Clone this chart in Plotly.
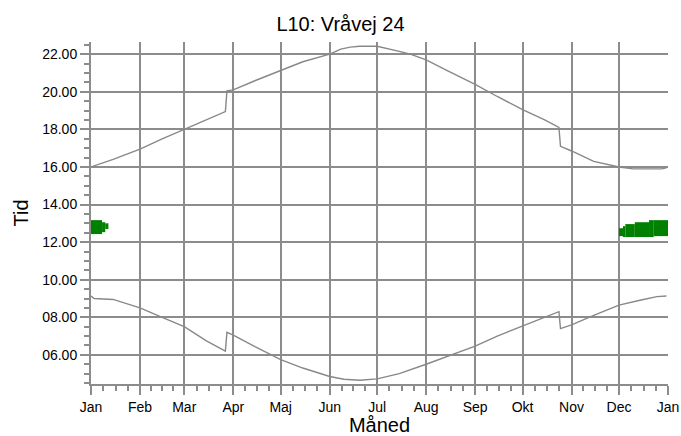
import pandas as pd
import plotly.graph_objects as go

# sunset (upper curve), hours
sunset_dates = ['2023-01-01', '2023-01-15', '2023-02-01', '2023-02-15', '2023-03-01', '2023-03-15',
                '2023-03-27', '2023-03-28', '2023-04-01', '2023-04-15', '2023-05-01', '2023-05-15',
                '2023-06-01', '2023-06-08', '2023-06-14', '2023-06-20', '2023-07-01', '2023-07-08',
                '2023-07-15', '2023-07-22', '2023-08-01', '2023-08-15', '2023-09-01', '2023-09-15',
                '2023-10-01', '2023-10-15', '2023-10-24', '2023-10-25', '2023-11-01', '2023-11-15',
                '2023-12-01', '2023-12-10', '2023-12-28', '2023-12-31']
sunset_vals = [16.0, 16.4, 16.95, 17.5, 18.0, 18.5,
               18.95, 20.05, 20.1, 20.6, 21.15, 21.6,
               22.0, 22.27, 22.38, 22.42, 22.42, 22.3,
               22.15, 22.0, 21.7, 21.1, 20.4, 19.75,
               19.05, 18.5, 18.1, 17.1, 16.85, 16.3,
               16.0, 15.9, 15.9, 15.95]

# sunrise (lower curve), hours
sunrise_dates = ['2023-01-01', '2023-01-03', '2023-01-15', '2023-02-01', '2023-02-15', '2023-03-01',
                 '2023-03-15', '2023-03-27', '2023-03-28', '2023-04-01', '2023-04-15', '2023-05-01',
                 '2023-05-15', '2023-06-01', '2023-06-10', '2023-06-20', '2023-07-01', '2023-07-15',
                 '2023-08-01', '2023-08-15', '2023-09-01', '2023-09-15', '2023-10-01', '2023-10-15',
                 '2023-10-24', '2023-10-25', '2023-11-01', '2023-11-15', '2023-12-01', '2023-12-15',
                 '2023-12-25', '2023-12-31']
sunrise_vals = [9.13, 9.0, 8.95, 8.5, 8.0, 7.5,
                6.75, 6.2, 7.2, 7.05, 6.42, 5.75,
                5.3, 4.85, 4.7, 4.65, 4.72, 5.0,
                5.5, 5.95, 6.47, 7.0, 7.53, 7.96,
                8.3, 7.4, 7.6, 8.1, 8.65, 8.92,
                9.1, 9.13]

# shadow periods (green blocks): start, end, low, high
shadow_start = ['2023-01-01', '2023-01-08', '2023-01-10',
                '2023-12-01', '2023-12-04', '2023-12-05', '2023-12-11', '2023-12-20', '2023-12-23']
shadow_end = ['2023-01-08', '2023-01-10', '2023-01-12',
              '2023-12-04', '2023-12-05', '2023-12-11', '2023-12-20', '2023-12-23', '2024-01-01']
shadow_low = [12.43, 12.53, 12.7, 12.32, 12.27, 12.27, 12.27, 12.27, 12.32]
shadow_high = [13.17, 13.06, 13.0, 12.74, 12.85, 12.96, 13.06, 13.17, 13.17]

month_labels = ['Jan', 'Feb', 'Mar', 'Apr', 'Maj', 'Jun', 'Jul', 'Aug', 'Sep', 'Okt', 'Nov', 'Dec', 'Jan']

line_grey = '#8c8c8c'

month_starts = pd.date_range('2023-01-01', '2024-01-01', freq='MS')
# three small ticks inside every month
minor_ticks = []
for a, b in zip(month_starts[:-1], month_starts[1:]):
    for k in (1, 2, 3):
        minor_ticks.append(a + (b - a) * k / 4)

starts = pd.to_datetime(shadow_start)
widths = [(e - s).total_seconds() * 1000 for s, e in zip(starts, pd.to_datetime(shadow_end))]

fig = go.Figure()
fig.add_trace(go.Bar(x=starts, y=[h - l for h, l in zip(shadow_high, shadow_low)], base=shadow_low,
                     width=widths, offset=0, marker=dict(color='#008000', line_width=0)))
fig.add_trace(go.Scatter(x=sunset_dates, y=sunset_vals, mode='lines',
                         line=dict(color='#888888', width=1.4)))
fig.add_trace(go.Scatter(x=sunrise_dates, y=sunrise_vals, mode='lines',
                         line=dict(color='#888888', width=1.4)))

fig.update_layout(
    width=681, height=436,
    margin=dict(l=91, r=13, t=42, b=52),
    paper_bgcolor='white', plot_bgcolor='white',
    showlegend=False,
    font=dict(family='Liberation Sans, Arial, sans-serif', color='black'),
    title=dict(text='L10: Vråvej 24', x=0.5, xanchor='center', y=0.945, yanchor='middle',
               font=dict(size=20), automargin=False),
    xaxis=dict(
        type='date', range=['2023-01-01', '2024-01-01'], automargin=False,
        tickmode='array', tickvals=list(month_starts), ticktext=month_labels,
        ticks='outside', ticklen=9, tickwidth=2, tickcolor=line_grey,
        showgrid=True, gridcolor=line_grey, gridwidth=2,
        showline=True, linecolor=line_grey, linewidth=2,
        tickfont=dict(size=14), ticklabeloverflow='allow',
        minor=dict(tickmode='array', tickvals=minor_ticks, ticks='outside', ticklen=5,
                   tickwidth=1.5, tickcolor=line_grey, showgrid=False),
        title=dict(text='Måned', font=dict(size=20), standoff=1),
        zeroline=False,
    ),
    yaxis=dict(
        range=[4.45, 22.65], tick0=0, dtick=2, tickformat='05.2f', automargin=False,
        ticks='outside', ticklen=9, tickwidth=2, tickcolor=line_grey,
        showgrid=True, gridcolor=line_grey, gridwidth=2,
        showline=True, linecolor=line_grey, linewidth=2,
        tickfont=dict(size=14),
        minor=dict(dtick=0.5, ticks='outside', ticklen=5, tickwidth=1.5,
                   tickcolor=line_grey, showgrid=False),
        title=dict(text='Tid', font=dict(size=20), standoff=8),
        zeroline=False,
    ),
)

# drop the default 8px page margin so the figure fills the window exactly
fig.write_html("out.html", config={'displayModeBar': False},
               post_script="document.body.style.margin = '0';")
